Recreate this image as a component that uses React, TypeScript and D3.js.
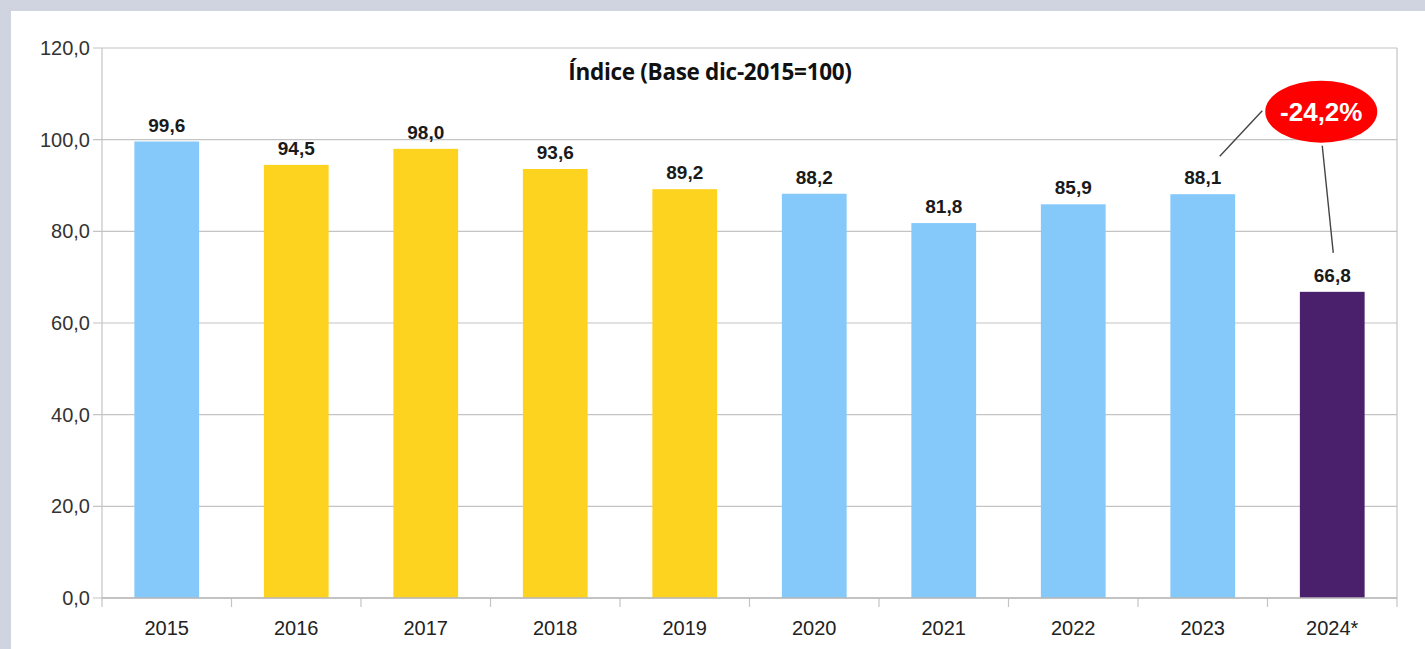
import React, { useEffect, useRef } from 'react'
import * as d3 from 'd3'

const years = ['2015', '2016', '2017', '2018', '2019', '2020', '2021', '2022', '2023', '2024*']
const values = [99.6, 94.5, 98.0, 93.6, 89.2, 88.2, 81.8, 85.9, 88.1, 66.8]
const colors = ['#85c8fa', '#fdd320', '#fdd320', '#fdd320', '#fdd320', '#85c8fa', '#85c8fa', '#85c8fa', '#85c8fa', '#4a1f6b']
const yTicks = [0, 20, 40, 60, 80, 100, 120]
const title = 'Índice (Base dic-2015=100)'
const change = '-24,2%'

export default function App() {
  const ref = useRef<SVGSVGElement>(null)

  useEffect(() => {
    const W = 1425
    const H = 649
    const svg = d3.select(ref.current)
    svg.selectAll('*').remove()

    /* background */
    svg.append('rect').attr('width', W).attr('height', H).attr('fill', '#d0d4e0')
    svg.append('rect').attr('x', 11).attr('y', 11).attr('width', W - 11).attr('height', H - 11).attr('fill', '#fff')

    const left = 102, right = 1397, top = 48, bottom = 598

    const x = d3.scaleBand().domain(years).range([left, right]).paddingInner(0.5).paddingOuter(0.25)
    const y = d3.scaleLinear().domain([0, 120]).range([bottom, top])
    const step = x.step()

    /* gridlines */
    svg.append('g').selectAll('line').data(yTicks).enter().append('line')
      .attr('x1', left - 9).attr('x2', right)
      .attr('y1', d => y(d)).attr('y2', d => y(d))
      .attr('stroke', '#c4c4c4').attr('stroke-width', 1.2)

    /* y labels */
    svg.append('g').selectAll('text').data(yTicks).enter().append('text')
      .attr('x', left - 12).attr('y', d => y(d)).attr('dy', '0.35em')
      .attr('text-anchor', 'end')
      .attr('font-family', 'Liberation Sans, Arial, sans-serif').attr('font-size', 20)
      .attr('fill', '#333')
      .text(d => d3.format('.1f')(d).replace('.', ','))

    /* vertical frame lines + category ticks */
    const ticksX = d3.range(years.length + 1).map(i => left + i * step)
    svg.append('g').selectAll('line').data(ticksX).enter().append('line')
      .attr('x1', d => d).attr('x2', d => d)
      .attr('y1', (d, i) => (i === 0 || i === years.length) ? top : bottom)
      .attr('y2', bottom + 9)
      .attr('stroke', '#c4c4c4').attr('stroke-width', 1.2)

    /* bars */
    svg.append('g').selectAll('rect').data(values).enter().append('rect')
      .attr('x', (d, i) => x(years[i])!)
      .attr('y', d => y(d))
      .attr('width', x.bandwidth())
      .attr('height', d => bottom - y(d))
      .attr('fill', (d, i) => colors[i])

    /* axis line on top of bars */
    svg.append('line').attr('x1', left).attr('x2', right).attr('y1', bottom).attr('y2', bottom)
      .attr('stroke', '#b8b8b8').attr('stroke-width', 1.4)

    /* value labels */
    svg.append('g').selectAll('text').data(values).enter().append('text')
      .attr('x', (d, i) => x(years[i])! + x.bandwidth() / 2)
      .attr('y', d => y(d) - 10)
      .attr('text-anchor', 'middle')
      .attr('font-family', 'Liberation Sans, Arial, sans-serif').attr('font-size', 19)
      .attr('font-weight', 'bold').attr('fill', '#1a1a1a')
      .text(d => d3.format('.1f')(d).replace('.', ','))

    /* x labels */
    svg.append('g').selectAll('text').data(years).enter().append('text')
      .attr('x', d => x(d)! + x.bandwidth() / 2)
      .attr('y', 635)
      .attr('text-anchor', 'middle')
      .attr('font-family', 'Liberation Sans, Arial, sans-serif').attr('font-size', 20)
      .attr('fill', '#222')
      .text(d => d)

    /* title */
    svg.append('text')
      .attr('x', 710).attr('y', 80)
      .attr('text-anchor', 'middle')
      .attr('font-family', 'Open Sans, Liberation Sans, sans-serif').attr('font-size', 22.5)
      .attr('font-weight', 'bold').attr('fill', '#111')
      .attr('letter-spacing', -0.3)
      .text(title)

    /* change annotation */
    const last = years.length - 1
    const cx = x(years[last])! + x.bandwidth() / 2 - 11
    const cy = y(106.1)
    const prevX = x(years[last - 1])! + x.bandwidth() / 2
    svg.append('line')
      .attr('x1', prevX + 17).attr('y1', y(values[last - 1]) - 38)
      .attr('x2', cx - 59).attr('y2', cy - 1)
      .attr('stroke', '#444').attr('stroke-width', 1.4)
    svg.append('line')
      .attr('x1', cx + 1).attr('y1', cy + 34)
      .attr('x2', cx + 12).attr('y2', y(values[last]) - 39)
      .attr('stroke', '#444').attr('stroke-width', 1.4)
    svg.append('ellipse')
      .attr('cx', cx).attr('cy', cy).attr('rx', 56).attr('ry', 31)
      .attr('fill', '#ff0000')
    svg.append('text')
      .attr('x', cx).attr('y', cy).attr('dy', '0.36em')
      .attr('text-anchor', 'middle')
      .attr('font-family', 'Liberation Sans, Arial, sans-serif').attr('font-size', 26)
      .attr('font-weight', 'bold').attr('fill', '#fff')
      .text(change)
  }, [])

  return (
    <svg ref={ref} width={1425} height={649}
      style={{ position: 'absolute', left: 0, top: 0, display: 'block' }} />
  )
}
